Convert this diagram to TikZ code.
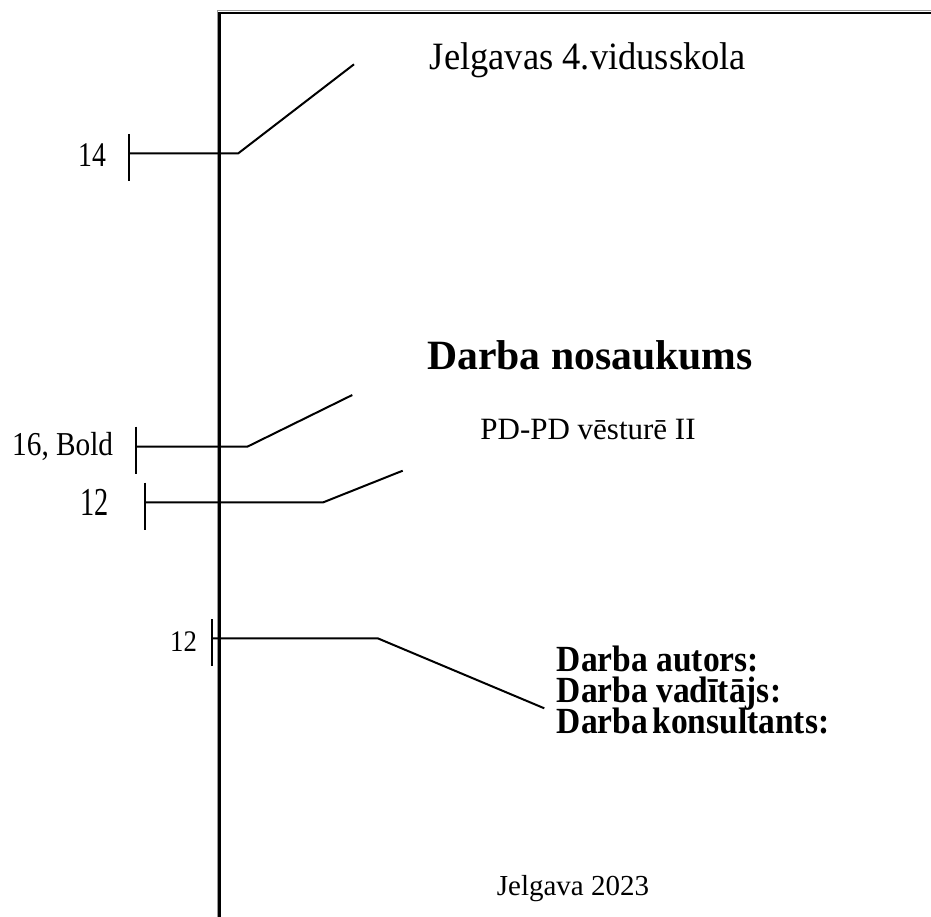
\documentclass[tikz,border=0pt]{standalone}
\usepackage{fontspec}
\setmainfont{Liberation Serif}
\begin{document}
\begin{tikzpicture}[x=1pt,y=-1pt]
\tikzset{
  callout/.style={line width=2pt, black},
  lbl/.style={inner sep=0pt, anchor=base west},
  ctr/.style={inner sep=0pt, anchor=base},
  role/.style={lbl, font=\fontsize{33.5}{34}\selectfont\bfseries},
  pageshadow/.style={line width=1.3pt, black!40},
  pageedge/.style={line width=2.5pt, black}
}
\useasboundingbox (0,0) rectangle (931,917);
\fill[white] (0,0) rectangle (931,917);
% page border
\draw[pageshadow] (217.3,917) -- (217.3,10.6) -- (931,10.6);
\draw[pageedge] (219.7,917) -- (219.7,12.9) -- (931,12.9);

% texts
\node[ctr] (school) at (588,69.3) {\scalebox{1}[1.06]{\fontsize{36.5}{37}\selectfont Jelgavas 4.vidusskola}};
\node[ctr] (title) at (590,369.3) {\fontsize{41.7}{42}\selectfont\bfseries Darba nosaukums};
\node[ctr] (sub) at (588,439.3) {\fontsize{31}{31}\selectfont PD-PD vēsturē II};
\node[role] (auth) at (556.7,671.7) {\scalebox{1}[1.1]{Darba autors:}};
\node[role] (lead) at (556.7,702.7) {\scalebox{1}[1.1]{Darba vadītājs:}};
\node[role] (cons) at (556.7,733.7) {\scalebox{1}[1.1]{Darba\hspace{-0.12em} konsultants:}};
\node[ctr] (city) at (573,895) {\fontsize{29}{29}\selectfont Jelgava 2023};

% labels
\node[lbl] (l14) at (78,166.7) {\scalebox{1}[1.25]{\fontsize{27.7}{28}\selectfont 14}};
\node[lbl] (l16) at (12,455.7) {\scalebox{1}[1.14]{\fontsize{29.3}{29}\selectfont 16, Bold}};
\node[lbl] (l12a) at (80,515) {\scalebox{1}[1.4]{\fontsize{28.3}{28}\selectfont 12}};
\node[lbl] (l12b) at (170,651) {\scalebox{1}[1.12]{\fontsize{26.7}{27}\selectfont 12}};

% callout coordinates
\coordinate (a1) at (129.3,134);   \coordinate (a2) at (129.3,181);
\coordinate (a3) at (129.3,153.3); \coordinate (a4) at (238.3,153.3); \coordinate (a5) at (354,64.3);
\coordinate (b1) at (135.7,426.7); \coordinate (b2) at (135.7,474.3);
\coordinate (b3) at (135.7,446.7); \coordinate (b4) at (247.3,446.7); \coordinate (b5) at (352.3,395);
\coordinate (c1) at (145.3,482.7); \coordinate (c2) at (145.3,530);
\coordinate (c3) at (145.3,502.3); \coordinate (c4) at (323.3,502.3); \coordinate (c5) at (402.7,470.7);
\coordinate (d1) at (211.7,619);   \coordinate (d2) at (211.7,665.5);
\coordinate (d3) at (211.7,638.3); \coordinate (d4) at (377.7,638.3); \coordinate (d5) at (544.3,708.3);

\draw[callout] (a1) -- (a2);
\draw[callout] (a3) -- (a4) -- (a5);
\draw[callout] (b1) -- (b2);
\draw[callout] (b3) -- (b4) -- (b5);
\draw[callout] (c1) -- (c2);
\draw[callout] (c3) -- (c4) -- (c5);
\draw[callout] (d1) -- (d2);
\draw[callout] (d3) -- (d4) -- (d5);
\end{tikzpicture}
\end{document}
